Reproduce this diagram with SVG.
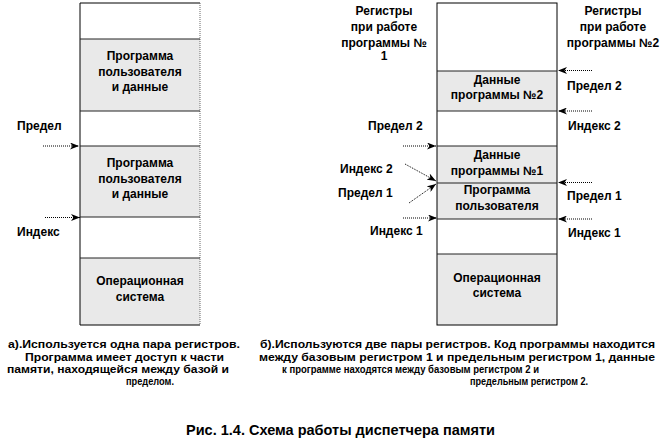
<svg xmlns="http://www.w3.org/2000/svg" width="665" height="448" viewBox="0 0 665 448">
<style>
  text { font-family: "Liberation Sans", Arial, sans-serif; font-weight: bold; fill: #000; }
  .n { font-size: 12px; text-anchor: middle; }
  .l { font-size: 12px; }
  .lc { font-size: 12px; text-anchor: middle; }
  .c { font-size: 11px; }
  .title { font-size: 15px; }
  .gray { fill: #e9e9e9; }
  .white { fill: #ffffff; }
  .sep { stroke: #222; stroke-width: 1; }
  .edge { stroke: #000; stroke-width: 1; fill: none; }
  .dotedge { stroke: #666; stroke-width: 1; stroke-dasharray: 1 1; }
  .arr { stroke: #000; stroke-width: 1; stroke-dasharray: 1 1; fill: none; marker-end: url(#ah); }
</style>
<defs>
  <marker id="ah" markerUnits="userSpaceOnUse" markerWidth="9" markerHeight="7" refX="9" refY="3.5" orient="auto">
    <path d="M0,0 L9,3.5 L0,7 L2.5,3.5 z" fill="#000"/>
  </marker>
</defs>

<!-- Left memory column -->
<g id="left-free-top"><rect class="white" x="80" y="3" width="120" height="36"/></g>
<g id="left-user-1">
  <rect class="gray" x="80" y="39" width="120" height="72"/>
  <text class="n" x="140" y="60">Программа</text>
  <text class="n" x="140" y="75.5">пользователя</text>
  <text class="n" x="140" y="91">и данные</text>
</g>
<g id="left-free-mid"><rect class="white" x="80" y="111" width="120" height="35"/></g>
<g id="left-user-2">
  <rect class="gray" x="80" y="146" width="120" height="71"/>
  <text class="n" x="140" y="167">Программа</text>
  <text class="n" x="140" y="183">пользователя</text>
  <text class="n" x="140" y="198">и данные</text>
</g>
<g id="left-free-low"><rect class="white" x="80" y="217" width="120" height="41"/></g>
<g id="left-os">
  <rect class="gray" x="80" y="258" width="120" height="67"/>
  <text class="n" x="140" y="285">Операционная</text>
  <text class="n" x="140" y="301">система</text>
</g>
<g id="left-frame">
  <path class="edge" d="M200,3 H80 V325 H200"/>
  <line class="dotedge" x1="200" y1="3" x2="200" y2="325"/>
  <line class="sep" x1="80" y1="39" x2="200" y2="39"/>
  <line class="sep" x1="80" y1="111" x2="200" y2="111"/>
  <line class="sep" x1="80" y1="146" x2="200" y2="146"/>
  <line class="sep" x1="80" y1="217" x2="200" y2="217"/>
  <line class="sep" x1="80" y1="258" x2="200" y2="258"/>
</g>

<!-- Right memory column -->
<g id="right-free-top"><rect class="white" x="437" y="3" width="120" height="68"/></g>
<g id="right-data-2">
  <rect class="gray" x="437" y="71" width="120" height="40"/>
  <text class="n" x="497" y="83.5">Данные</text>
  <text class="n" x="497" y="99">программы  №2</text>
</g>
<g id="right-free-mid"><rect class="white" x="437" y="111" width="120" height="35"/></g>
<g id="right-data-1">
  <rect class="gray" x="437" y="146" width="120" height="37"/>
  <text class="n" x="497" y="158.5">Данные</text>
  <text class="n" x="497" y="175">программы №1</text>
</g>
<g id="right-user">
  <rect class="gray" x="437" y="183" width="120" height="36"/>
  <text class="n" x="497" y="193.5">Программа</text>
  <text class="n" x="497" y="210">пользователя</text>
</g>
<g id="right-free-low"><rect class="white" x="437" y="219" width="120" height="35"/></g>
<g id="right-os">
  <rect class="gray" x="437" y="254" width="120" height="71"/>
  <text class="n" x="497" y="282">Операционная</text>
  <text class="n" x="497" y="297">система</text>
</g>
<g id="right-frame">
  <rect class="edge" x="437" y="3" width="120" height="322"/>
  <line class="sep" x1="437" y1="71" x2="557" y2="71"/>
  <line class="sep" x1="437" y1="111" x2="557" y2="111"/>
  <line class="sep" x1="437" y1="146" x2="557" y2="146"/>
  <line class="sep" x1="437" y1="183" x2="557" y2="183"/>
  <line class="sep" x1="437" y1="219" x2="557" y2="219"/>
  <line class="sep" x1="437" y1="254" x2="557" y2="254"/>
</g>

<!-- Register labels -->
<g id="label-left-limit"><text class="l" x="17" y="130">Предел</text></g>
<g id="label-left-index"><text class="l" x="17" y="236">Индекс</text></g>

<g id="label-regs-1">
  <text class="lc" x="384" y="15">Регистры</text>
  <text class="lc" x="384" y="31">при работе</text>
  <text class="lc" x="384" y="46.5">программы №</text>
  <text class="lc" x="384" y="60">1</text>
</g>
<g id="label-regs-2">
  <text class="lc" x="613" y="15">Регистры</text>
  <text class="lc" x="613" y="31">при работе</text>
  <text class="lc" x="613" y="46.5">программы №2</text>
</g>
<g id="label-r-limit2"><text class="l" x="567" y="90">Предел  2</text></g>
<g id="label-r-index2"><text class="l" x="568" y="130">Индекс 2</text></g>
<g id="label-r-limit1"><text class="l" x="567" y="200">Предел  1</text></g>
<g id="label-r-index1"><text class="l" x="568" y="237">Индекс 1</text></g>
<g id="label-l-limit2"><text class="l" x="368" y="130">Предел  2</text></g>
<g id="label-l-index2"><text class="l" x="340" y="173">Индекс 2</text></g>
<g id="label-l-limit1"><text class="l" x="338" y="197">Предел  1</text></g>
<g id="label-l-index1"><text class="l" x="370" y="235">Индекс 1</text></g>

<!-- Connectors -->
<g id="connectors">
  <line class="arr" x1="43" y1="146" x2="79" y2="146"/>
  <line class="arr" x1="45" y1="217.5" x2="80" y2="217.5"/>
  <line class="arr" x1="403" y1="146" x2="436" y2="146"/>
  <line class="arr" x1="405" y1="164" x2="436" y2="181"/>
  <line class="arr" x1="409" y1="203" x2="436" y2="184"/>
  <line class="arr" x1="403" y1="218" x2="437" y2="218"/>
  <line class="arr" x1="592" y1="70.5" x2="558" y2="70.5"/>
  <line class="arr" x1="592" y1="111" x2="558" y2="111"/>
  <line class="arr" x1="592" y1="182.5" x2="558" y2="182.5"/>
  <line class="arr" x1="592" y1="219" x2="558" y2="219"/>
</g>

<!-- Captions -->
<g id="caption-a">
  <text class="c" x="8" y="348" textLength="232" lengthAdjust="spacingAndGlyphs">а).Используется  одна пара регистров.</text>
  <text class="c" x="25" y="361" textLength="199" lengthAdjust="spacingAndGlyphs">Программа  имеет доступ к части</text>
  <text class="c" x="7" y="373" textLength="222" lengthAdjust="spacingAndGlyphs">памяти,  находящейся между базой и</text>
  <text class="c" x="126" y="385" textLength="48" lengthAdjust="spacingAndGlyphs">пределом.</text>
</g>
<g id="caption-b">
  <text class="c" x="260" y="348" textLength="395" lengthAdjust="spacingAndGlyphs">б).Используются  две пары регистров.  Код программы находится</text>
  <text class="c" x="259" y="361" textLength="396" lengthAdjust="spacingAndGlyphs">между базовым  регистром 1 и предельным  регистром  1, данные</text>
  <text class="c" x="282" y="373" textLength="257" lengthAdjust="spacingAndGlyphs">к программе  находятся между базовым  регистром  2 и</text>
  <text class="c" x="470" y="385" textLength="118" lengthAdjust="spacingAndGlyphs">предельным  регистром 2.</text>
</g>
<g id="title">
  <text class="title" x="186" y="435" textLength="309" lengthAdjust="spacingAndGlyphs">Рис. 1.4. Схема работы диспетчера памяти</text>
</g>
</svg>
